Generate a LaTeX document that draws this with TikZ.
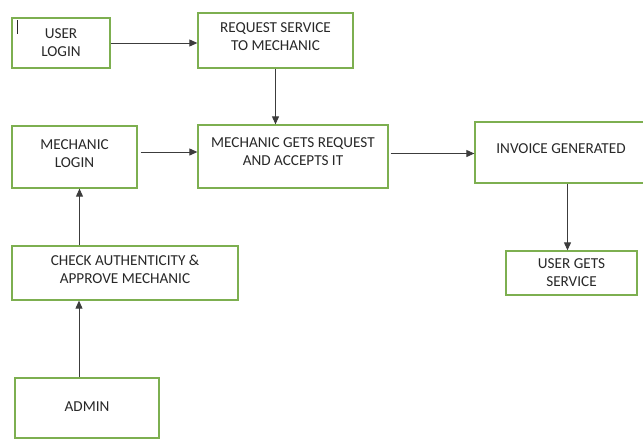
\documentclass[tikz,border=0pt]{standalone}
\usepackage{fontspec}
\setmainfont{Carlito}
\usepackage{tikz}
\usetikzlibrary{arrows.meta,positioning,calc}
\definecolor{boxgreen}{RGB}{125,175,80}
\definecolor{flowgray}{RGB}{60,60,60}
\definecolor{labeltext}{RGB}{40,40,40}

\tikzset{
    flowbox/.style={draw=boxgreen,line width=1.3pt,fill=white,align=center,
                    inner sep=2pt,text=labeltext,
                    font=\fontsize{15.2}{18}\selectfont},
    flowarrow/.style={draw=flowgray,line width=1pt,
                      -{Triangle[length=8pt,width=7pt]}}
}

\begin{document}
\begin{tikzpicture}[x=1pt,y=-1pt]
    \useasboundingbox (0,0) rectangle (643,439);

    % user side
    \node[flowbox,minimum width=98pt,minimum height=50pt,text depth=1pt] (userlogin) at (61,43) {USER\\LOGIN};
    \node[flowbox,minimum width=155pt,minimum height=55pt,text depth=7pt] (request) at (275.5,40.5) {REQUEST SERVICE\\TO MECHANIC};
    \node[flowbox,minimum width=190pt,minimum height=63pt,text depth=9pt] (mechgets) at (293,156.5) {MECHANIC GETS REQUEST\\AND ACCEPTS IT};

    % mechanic side
    \node[flowbox,minimum width=125pt,minimum height=62pt,text depth=7pt] (mechlogin) at (74.5,157) {MECHANIC\\LOGIN};
    \node[flowbox,minimum width=226pt,minimum height=54pt,text depth=7pt] (check) at (125,273) {CHECK AUTHENTICITY \&\\APPROVE MECHANIC};
    \node[flowbox,minimum width=144pt,minimum height=60pt,text depth=3pt] (admin) at (87,408) {ADMIN};

    % result
    \node[flowbox,minimum width=172pt,minimum height=61pt,text depth=8pt] (invoice) at (561,152.5) {INVOICE GENERATED};
    \node[flowbox,minimum width=131pt,minimum height=44pt,text depth=0pt] (usergets) at (571.5,273) {USER GETS\\SERVICE};

    \draw[labeltext,line width=0.6pt] (userlogin.north west) ++(6,3) -- ++(0,14);

    \draw[flowarrow] (userlogin.east) -- (request.west |- userlogin.east);
    \draw[flowarrow] (request.south) -- (request.south |- mechgets.north);
    \draw[flowarrow] ([xshift=3pt,yshift=5pt]mechlogin.east) -- ([yshift=5pt]mechgets.west |- mechlogin.east);
    \draw[flowarrow] ([xshift=2pt,yshift=3pt]mechgets.east) -- ([yshift=3pt]invoice.west |- mechgets.east);
    \draw[flowarrow] ([xshift=-4pt]usergets.north |- invoice.south) -- ([xshift=-4pt]usergets.north);
    \draw[flowarrow] ([xshift=5pt]check.north -| mechlogin) -- ([xshift=5pt]mechlogin.south);
    \draw[flowarrow] ([xshift=-8pt]admin.north) -- ([xshift=-8pt]admin.north |- check.south);
\end{tikzpicture}
\end{document}
